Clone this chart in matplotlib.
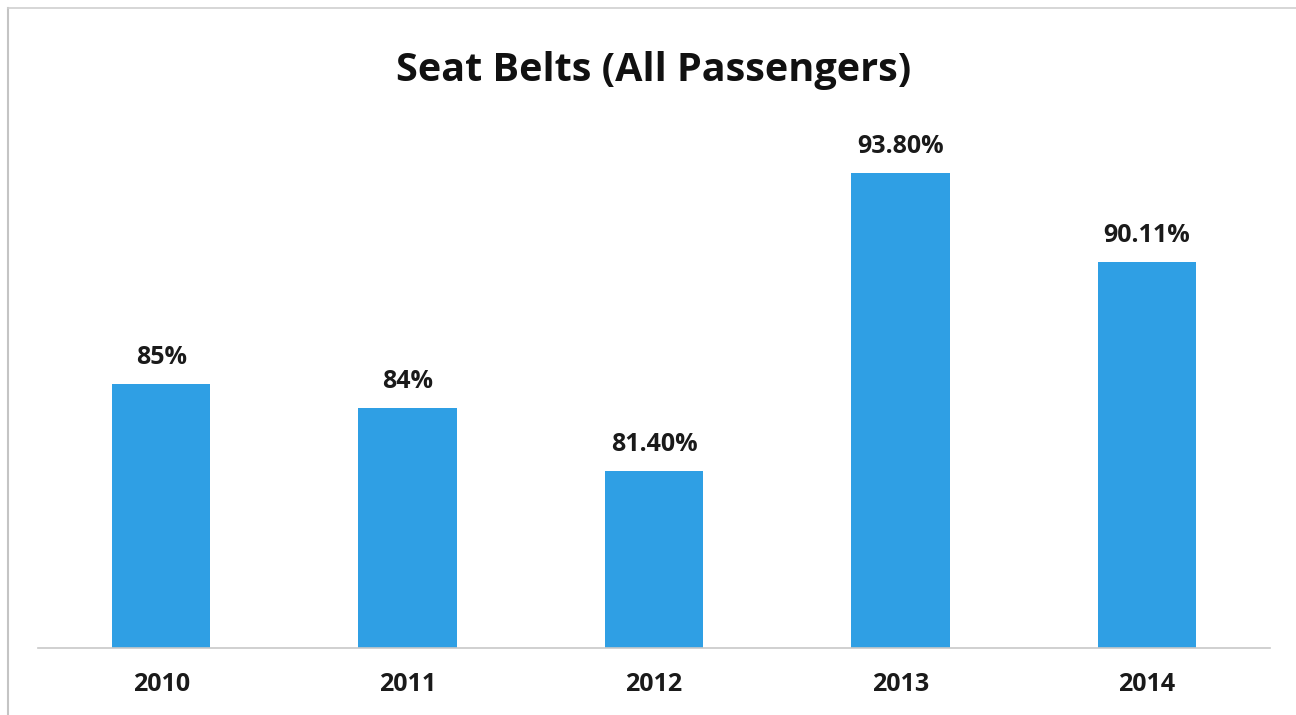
import matplotlib
matplotlib.use("Agg")
import matplotlib.pyplot as plt
from matplotlib.lines import Line2D

years = ["2010", "2011", "2012", "2013", "2014"]
values = [85.0, 84.0, 81.4, 93.8, 90.11]
labels = ["85%", "84%", "81.40%", "93.80%", "90.11%"]
title = "Seat Belts (All Passengers)"

W, H = 1296, 715
fig = plt.figure(figsize=(W / 100, H / 100), dpi=100)
fig.patch.set_facecolor("white")
plt.rcParams['font.family'] = ['Open Sans', 'DejaVu Sans']

# outer frame (top and left edges visible)
fig.lines.append(Line2D([8 / W, 8 / W], [0, 1 - 8 / H], transform=fig.transFigure,
                        color="#c4c4c4", linewidth=1.5))
fig.lines.append(Line2D([8 / W, 1], [1 - 8 / H, 1 - 8 / H], transform=fig.transFigure,
                        color="#d0d0d0", linewidth=1.2))

ax = fig.add_axes([38 / W, 1 - 648 / H, (1270 - 38) / W, 0.738])
ymin, ymax = 74, 96
x = range(len(years))
ax.bar(x, [v - ymin for v in values], bottom=ymin, width=0.4, color="#2f9fe4")
ax.set_xlim(-0.5, 4.5)
ax.set_ylim(ymin, ymax)
for s in ["top", "right", "left"]:
    ax.spines[s].set_visible(False)
ax.spines["bottom"].set_color("#c8c8c8")
ax.spines["bottom"].set_linewidth(1.2)
ax.set_yticks([])
ax.set_xticks(list(x))
ax.set_xticklabels(years, fontsize=18, fontweight="bold", color="#1a1a1a")
ax.tick_params(axis="x", length=0, pad=17)
for i, (v, lab) in enumerate(zip(values, labels)):
    ax.annotate(lab, (i, v), xytext=(0, 10), textcoords="offset points",
                ha="center", va="bottom", fontsize=18, fontweight="bold",
                color="#1a1a1a")

fig.text(654 / W, 1 - 70 / H, title, ha="center", va="center",
         fontsize=28.5, fontweight="bold", color="#111111")

fig.savefig("out.png", dpi=100)
